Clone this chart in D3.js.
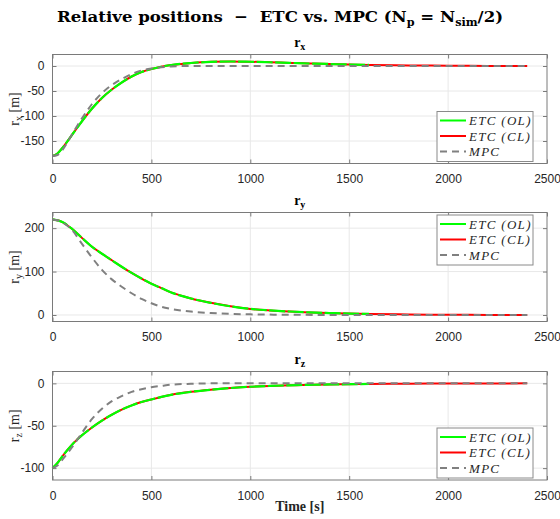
<!DOCTYPE html>
<html>
<head>
<meta charset="utf-8">
<script src="https://cdn.jsdelivr.net/npm/d3@7"></script>
<style>
  body { margin: 0; background: #fff; }
  svg { display: block; }
</style>
</head>
<body>
<svg></svg>
<script>
const width = 560, height = 519;

// time samples [s]
const timeEtc = [0, 25, 50, 100, 150, 200, 250, 300, 350, 400, 450, 500, 550, 600, 700, 800, 900, 1000, 1100, 1200, 1300, 1400, 1500, 1600, 1800, 2000, 2200, 2400];
const timeMpc = [0, 25, 50, 100, 150, 200, 250, 300, 350, 400, 450, 500, 550, 600, 700, 800, 900, 1000, 1200, 1400, 1600, 2000, 2400];

// r_x [m]
const rxEtc = [-180, -175, -164, -137, -110, -85, -64, -47, -33, -21, -12, -6, -1.5, 2, 6, 8.3, 9, 8.5, 7.5, 6.2, 5, 4, 3, 2.2, 1.2, 0.6, 0.2, 0];
const rxMpc = [-180, -178, -168, -136, -104, -76, -54, -38, -26, -16, -9, -5, -2.5, -1, 0, 0, 0, 0, 0, 0, 0, 0, 0];

// r_y [m]
const ryEtc = [220, 218, 214, 198, 177, 157, 141, 126, 111, 97, 84, 72, 62, 52, 38, 28, 20, 14, 10.5, 8, 6, 4.5, 3.2, 2.4, 1.2, 0.6, 0.2, 0];
const ryMpc = [220, 218, 213, 195, 163, 132, 104, 82, 65, 50, 37, 27, 19, 14, 8, 4.5, 2.5, 1.5, 0.5, 0.1, 0, 0, 0];

// r_z [m]
const rzEtc = [-100, -94, -86, -72, -61, -52, -44, -37, -31, -26, -22, -19, -16, -13.5, -10, -7.5, -5.5, -4, -3, -2.3, -1.7, -1.3, -1, -0.7, -0.4, -0.2, -0.1, 0];
const rzMpc = [-100, -97, -90, -75, -58, -42, -30, -21, -15, -10, -7, -4.5, -3, -1.5, -0.5, 0, 0, 0, 0, 0, 0, 0, 0];

const xTicks = [0, 500, 1000, 1500, 2000, 2500];
const legendLabels = ["ETC (OL)", "ETC (CL)", "MPC"];
const olEnd = 1600; // open-loop trace stops here

const panels = [
  { title: "x", etc: rxEtc, mpc: rxMpc, domain: [-195, 23], ticks: [-150, -100, -50, 0], top: 54.5, bottom: 163.5, legend: "bottom" },
  { title: "y", etc: ryEtc, mpc: ryMpc, domain: [-15, 236], ticks: [0, 100, 200], top: 212.5, bottom: 321.5, legend: "top" },
  { title: "z", etc: rzEtc, mpc: rzMpc, domain: [-114, 14], ticks: [-100, -50, 0], top: 371.5, bottom: 480, legend: "bottom" }
];

const left = 52.5, right = 547;
const axisColor = "#7a7a7a";
const sans = "'Liberation Sans', Arial, sans-serif";
const serif = "'Liberation Serif', 'DejaVu Serif', serif";

const svg = d3.select("svg").attr("width", width).attr("height", height);

svg.append("text")
    .attr("x", 280).attr("y", 22)
    .attr("text-anchor", "middle")
    .attr("font-family", "'DejaVu Serif', serif")
    .attr("font-weight", "bold")
    .attr("font-size", 15.5)
    .attr("textLength", 446).attr("lengthAdjust", "spacingAndGlyphs")
    .html("Relative positions &#160;&#8722;&#160; ETC vs. MPC (N<tspan dy='4' font-size='10.5'>p</tspan><tspan dy='-4'> = N</tspan><tspan dy='4' font-size='10.5'>sim</tspan><tspan dy='-4'>/2)</tspan>");

const x = d3.scaleLinear().domain([0, 2500]).range([left, right]);

panels.forEach(function(p) {
  const y = d3.scaleLinear().domain(p.domain).range([p.bottom, p.top]);
  const g = svg.append("g");

  // grid
  g.selectAll(".gx").data(xTicks.slice(1, -1)).join("line")
      .attr("x1", d => x(d)).attr("x2", d => x(d))
      .attr("y1", p.top).attr("y2", p.bottom)
      .attr("stroke", "#e8e8e8");
  g.selectAll(".gy").data(p.ticks).join("line")
      .attr("x1", left).attr("x2", right)
      .attr("y1", d => y(d)).attr("y2", d => y(d))
      .attr("stroke", "#e8e8e8");

  // axes (ticks inside, on all sides)
  const ax = g.append("g").attr("transform", "translate(0," + p.bottom + ")")
      .call(d3.axisBottom(x).tickValues(xTicks).tickSize(-4).tickPadding(11).tickFormat(d3.format("d")));
  const axTop = g.append("g").attr("transform", "translate(0," + p.top + ")")
      .call(d3.axisTop(x).tickValues(xTicks).tickSize(-4).tickFormat(""));
  const ay = g.append("g").attr("transform", "translate(" + left + ",0)")
      .call(d3.axisLeft(y).tickValues(p.ticks).tickSize(-4).tickPadding(8).tickFormat(d3.format("d")));
  const ayR = g.append("g").attr("transform", "translate(" + right + ",0)")
      .call(d3.axisRight(y).tickValues(p.ticks).tickSize(-4).tickFormat(""));
  [ax, axTop, ay, ayR].forEach(function(a) {
    a.select(".domain").remove();
    a.selectAll("line").attr("stroke", axisColor);
    a.selectAll("text").attr("font-family", sans).attr("font-size", 12).attr("fill", "#262626");
  });
  ay.selectAll("text").text(d => d3.format("d")(d).replace("−", "-"));

  const lineEtc = d3.line().x((d, i) => x(timeEtc[i])).y(d => y(d)).curve(d3.curveMonotoneX);
  const lineMpc = d3.line().x((d, i) => x(timeMpc[i])).y(d => y(d)).curve(d3.curveMonotoneX);
  const clip = "clip-" + p.title;
  g.append("clipPath").attr("id", clip).append("rect")
      .attr("x", 0).attr("y", 0).attr("width", x(olEnd)).attr("height", height);

  g.append("path").datum(p.etc).attr("d", lineEtc)
      .attr("fill", "none").attr("stroke", "#ff0000").attr("stroke-width", 2);
  g.append("path").datum(p.etc).attr("d", lineEtc)
      .attr("clip-path", "url(#" + clip + ")")
      .attr("fill", "none").attr("stroke", "#00ff00").attr("stroke-width", 2.2)
      .attr("stroke-dasharray", "16,2.5");
  g.append("path").datum(p.mpc).attr("d", lineMpc)
      .attr("fill", "none").attr("stroke", "#808080").attr("stroke-width", 2)
      .attr("stroke-dasharray", "7,5");

  // box
  g.append("rect").attr("x", left).attr("y", p.top)
      .attr("width", right - left).attr("height", p.bottom - p.top)
      .attr("fill", "none").attr("stroke", axisColor);

  // subplot title
  const t = g.append("text").attr("x", (left + right) / 2).attr("y", p.top - 8)
      .attr("text-anchor", "middle").attr("font-family", serif)
      .attr("font-weight", "bold").attr("font-size", 14);
  t.append("tspan").text("r");
  t.append("tspan").attr("dy", 3).attr("font-size", 10).text(p.title);

  // y label
  const yl = g.append("text")
      .attr("transform", "translate(19," + ((p.top + p.bottom) / 2) + ") rotate(-90)")
      .attr("text-anchor", "middle").attr("font-family", serif)
      .attr("font-size", 14).attr("fill", "#262626");
  yl.append("tspan").text("r");
  yl.append("tspan").attr("dy", 3).attr("font-size", 10).text(p.title);
  yl.append("tspan").attr("dy", -3).text(" [m]");

  // legend
  const lw = 96, lh = 50;
  const lx = 437, ly = p.legend === "top" ? p.top + 2.5 : p.bottom - lh - 2;
  const lg = g.append("g").attr("transform", "translate(" + lx + "," + ly + ")");
  lg.append("rect").attr("width", lw).attr("height", lh)
      .attr("fill", "#fff").attr("stroke", "#8a8a8a");
  const styles = [
    { stroke: "#00ff00", dash: null },
    { stroke: "#ff0000", dash: null },
    { stroke: "#808080", dash: "7,5" }
  ];
  legendLabels.forEach(function(label, i) {
    const yy = 9 + i * 15.5;
    lg.append("line").attr("x1", 3).attr("x2", 29).attr("y1", yy).attr("y2", yy)
        .attr("stroke", styles[i].stroke).attr("stroke-width", 2)
        .attr("stroke-dasharray", styles[i].dash);
    lg.append("text").attr("x", 32).attr("y", yy + 4.5)
        .attr("font-family", serif).attr("font-style", "italic")
        .attr("font-size", 13).attr("fill", "#262626")
        .attr("letter-spacing", 1.3)
        .text(label);
  });
});

svg.append("text").attr("x", (left + right) / 2).attr("y", 511)
    .attr("text-anchor", "middle").attr("font-family", serif)
    .attr("font-weight", "bold").attr("font-size", 14).attr("fill", "#262626")
    .text("Time [s]");
</script>
</body>
</html>
